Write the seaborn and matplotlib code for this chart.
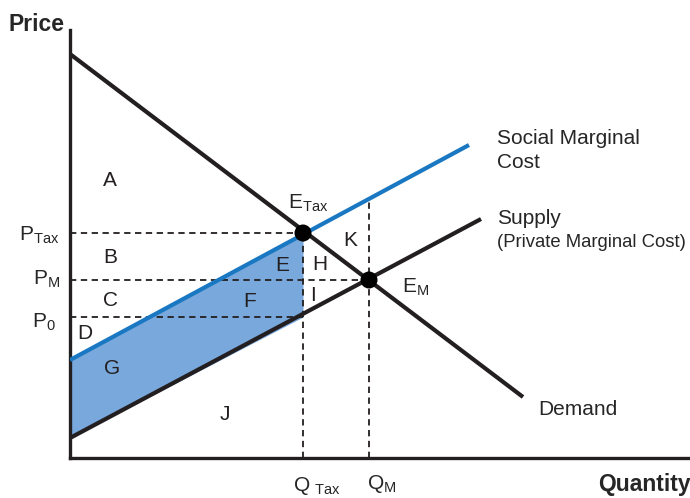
import matplotlib
matplotlib.use("Agg")
import matplotlib.pyplot as plt
import seaborn as sns
import pandas as pd

# curve end points (quantity, price)
demand_q = [0, 453]
demand_p = [404, 61]
smc_q = [0, 399]
smc_p = [98, 313]
supply_q = [0, 411]
supply_p = [20, 239]

# market points
q_tax, p_tax = 233, 225
q_m, p_m = 299, 178
p_0 = 141
smc_at_qm = 259

sns.set_theme(style="white")
plt.rcParams["font.family"] = ["Liberation Sans", "DejaVu Sans"]
plt.rcParams["mathtext.fontset"] = "custom"
plt.rcParams["mathtext.rm"] = "Liberation Sans"

BLACK = "#231f20"
BLUE = "#1a78c2"
FILL = "#78a8dc"

fig = plt.figure(figsize=(6.9, 4.98), dpi=100)
ax = fig.add_axes([70 / 690, 40 / 498, 620 / 690, 458 / 498])
ax.set_xlim(0, 620)
ax.set_ylim(0, 458)

# shaded area between social marginal cost and supply up to Q_Tax
ax.fill_between([0, q_tax], [supply_p[0], p_0], [smc_p[0], p_tax],
                color=FILL, linewidth=0, zorder=1)

# dashed guide lines
dash = dict(color=BLACK, linewidth=1.3, linestyle=(0, (3.5, 2.5)), zorder=2)
ax.plot([0, q_tax], [p_tax, p_tax], **dash)
ax.plot([0, q_m], [p_m, p_m], **dash)
ax.plot([0, q_tax], [p_0, p_0], **dash)
ax.plot([q_tax, q_tax], [0, p_tax], **dash)
ax.plot([q_m, q_m], [0, smc_at_qm], **dash)

curves = pd.DataFrame({
    "q": demand_q + smc_q + supply_q,
    "p": demand_p + smc_p + supply_p,
    "curve": ["Demand"] * 2 + ["SMC"] * 2 + ["Supply"] * 2,
})
sns.lineplot(data=curves, x="q", y="p", hue="curve",
             palette={"Demand": BLACK, "SMC": BLUE, "Supply": BLACK},
             linewidth=3, legend=False, ax=ax, zorder=3)
for line in ax.lines[-3:]:
    line.set_solid_capstyle("butt")

pts = pd.DataFrame({"q": [q_tax, q_m], "p": [p_tax, p_m]})
sns.scatterplot(data=pts, x="q", y="p", color="black", s=150,
                edgecolor="none", ax=ax, zorder=4)

# axes
for side in ["top", "right"]:
    ax.spines[side].set_visible(False)
for side in ["left", "bottom"]:
    ax.spines[side].set_color(BLACK)
    ax.spines[side].set_linewidth(2.4)
ax.spines["left"].set_bounds(0, 428)
ax.set_xticks([])
ax.set_yticks([])
ax.set_xlabel("")
ax.set_ylabel("")

# area letters
fs = 15
letters = {"A": (40, 278), "B": (40, 201), "C": (40, 158), "D": (15, 125),
           "G": (42, 90), "J": (155, 44), "E": (212, 193), "F": (180, 157),
           "H": (250, 194), "I": (243, 163), "K": (280, 218)}
for lab, (x, y) in letters.items():
    ax.text(x, y, lab, fontsize=fs, ha="center", va="center", color=BLACK)

# price and quantity labels
ax.text(-11, 218, r"$\mathrm{P}_{\mathrm{Tax}}$", fontsize=fs, ha="right", va="baseline")
ax.text(-10, 174, r"$\mathrm{P}_{\mathrm{M}}$", fontsize=fs, ha="right", va="baseline")
ax.text(-14, 131, r"$\mathrm{P}_{0}$", fontsize=fs, ha="right", va="baseline")
ax.text(223, -33, r"$\mathrm{Q}_{\ \mathrm{Tax}}$", fontsize=fs, ha="left", va="baseline")
ax.text(297, -31, r"$\mathrm{Q}_{\mathrm{M}}$", fontsize=fs, ha="left", va="baseline")
ax.text(218, 250, r"$\mathrm{E}_{\mathrm{Tax}}$", fontsize=fs, ha="left", va="baseline")
ax.text(332, 166, r"$\mathrm{E}_{\mathrm{M}}$", fontsize=fs, ha="left", va="baseline")

ax.text(427, 320, "Social Marginal", fontsize=fs, ha="left", va="center")
ax.text(427, 296, "Cost", fontsize=fs, ha="left", va="center")
ax.text(427, 240, "Supply", fontsize=fs, ha="left", va="center")
ax.text(427, 216, "(Private Marginal Cost)", fontsize=13.3, ha="left", va="center")
ax.text(468, 49, "Demand", fontsize=fs, ha="left", va="center")

ax.text(-62, 427, "Price", fontsize=16.5, fontweight="bold", ha="left", va="baseline")
ax.text(528, -33, "Quantity", fontsize=16.5, fontweight="bold", ha="left", va="baseline")

fig.savefig("out.png", dpi=100)
